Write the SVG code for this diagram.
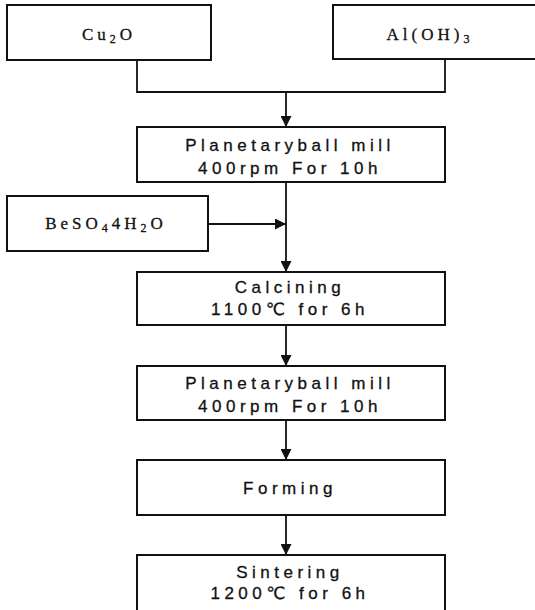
<svg xmlns="http://www.w3.org/2000/svg" width="535" height="610" viewBox="0 0 535 610">
<style>
.box{fill:#fff;stroke:#111;stroke-width:2}
.t{font-family:"Liberation Sans","DejaVu Sans",sans-serif;font-size:17px;fill:#111;stroke:#111;stroke-width:0.3;text-anchor:middle;letter-spacing:4.5px}
.s{font-family:"Liberation Serif","DejaVu Serif",serif;font-size:17px;fill:#111;stroke:#111;stroke-width:0.3;text-anchor:middle;letter-spacing:4px}
.sub{font-size:12px}
.ln{fill:none;stroke:#111;stroke-width:1.8}
</style>
<defs>
<marker id="ah" viewBox="0 0 10 10" refX="10" refY="5" markerWidth="11" markerHeight="11" markerUnits="userSpaceOnUse" orient="auto">
<path d="M0,0 L10,5 L0,10 Z" fill="#111"/>
</marker>
</defs>
<rect width="535" height="610" fill="#fff"/>
<g id="connectors">
<path class="ln" d="M137,60 V92 H445 V59"/>
<path class="ln" d="M286,92 V127" marker-end="url(#ah)"/>
<path class="ln" d="M286,182 V272" marker-end="url(#ah)"/>
<path class="ln" d="M208,224 H286" marker-end="url(#ah)"/>
<path class="ln" d="M286,325 V366" marker-end="url(#ah)"/>
<path class="ln" d="M286,420 V460" marker-end="url(#ah)"/>
<path class="ln" d="M286,515 V555" marker-end="url(#ah)"/>
</g>
<g id="cu2o">
<rect class="box" x="7" y="5" width="204" height="55"/>
<text class="s" x="109" y="40">Cu<tspan class="sub" dy="3">2</tspan><tspan dy="-3">O</tspan></text>
</g>
<g id="aloh3">
<rect class="box" x="333" y="5" width="210" height="54"/>
<text class="s" x="430" y="40">Al(OH)<tspan class="sub" dy="3">3</tspan></text>
</g>
<g id="mill1">
<rect class="box" x="137" y="127" width="308" height="55"/>
<text class="t" x="290" y="151">Planetaryball mill</text>
<text class="t" x="290" y="174">400rpm For 10h</text>
</g>
<g id="beso4">
<rect class="box" x="7" y="196" width="201" height="55"/>
<text class="s" x="106" y="229">BeSO<tspan class="sub" dy="3">4</tspan><tspan dy="-3">4H</tspan><tspan class="sub" dy="3">2</tspan><tspan dy="-3">O</tspan></text>
</g>
<g id="calcining">
<rect class="box" x="137" y="272" width="308" height="53"/>
<text class="t" x="290" y="293">Calcining</text>
<text class="t" x="290" y="315">1100℃ for 6h</text>
</g>
<g id="mill2">
<rect class="box" x="137" y="366" width="308" height="54"/>
<text class="t" x="290" y="389">Planetaryball mill</text>
<text class="t" x="290" y="412">400rpm For 10h</text>
</g>
<g id="forming">
<rect class="box" x="137" y="460" width="308" height="55"/>
<text class="t" x="290" y="494">Forming</text>
</g>
<g id="sintering">
<rect class="box" x="137" y="555" width="308" height="60"/>
<text class="t" x="290" y="578">Sintering</text>
<text class="t" x="290" y="599">1200℃ for 6h</text>
</g>
</svg>
